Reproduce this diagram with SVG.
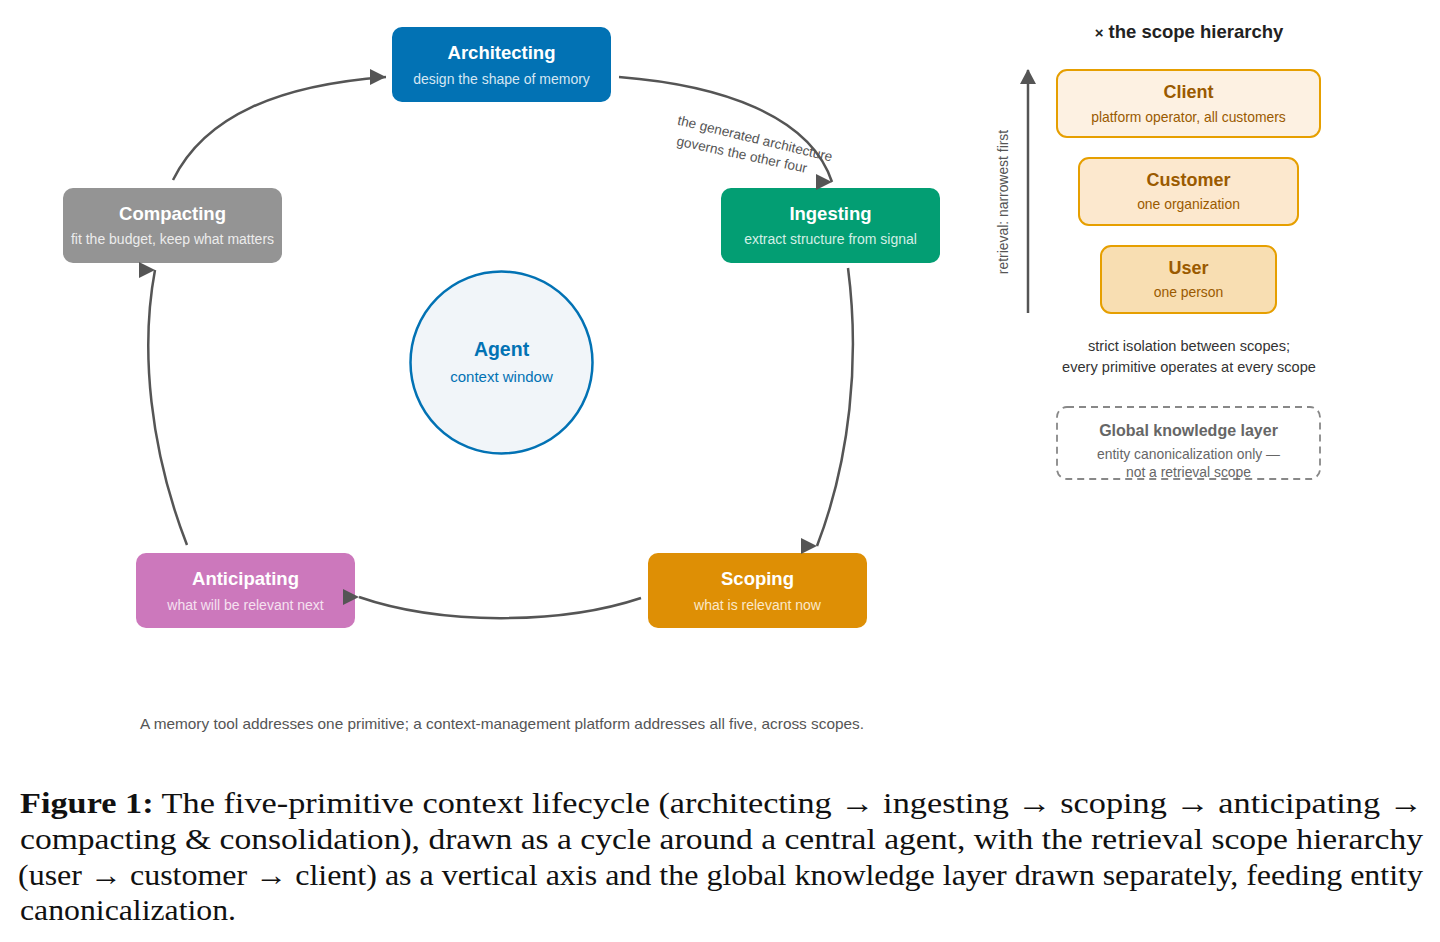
<svg xmlns="http://www.w3.org/2000/svg" width="1440" height="942" viewBox="0 0 1440 942">
<style>
.t{font-family:"Liberation Sans",Arial,sans-serif;text-anchor:middle}
.nt{font-size:18.5px;font-weight:bold;fill:#fff}
.ns{font-size:14px}
.conn{fill:none;stroke:#555;stroke-width:2.5}
.scope{stroke:#E69F00;stroke-width:2}
.st{font-size:18px;font-weight:bold;fill:#9A5A00}
.ss{font-size:13.9px;fill:#9A5A00}
</style>
<defs>
<marker id="ah" markerUnits="userSpaceOnUse" markerWidth="17" markerHeight="17" refX="16" refY="8" orient="0">
<path d="M0,0 L16,8 L0,16 z" fill="#555"/>
</marker>
<marker id="up" markerUnits="userSpaceOnUse" markerWidth="16" markerHeight="16" refX="8" refY="1" orient="0">
<path d="M8,0 L16,15 L0,15 z" fill="#555"/>
</marker>
</defs>
<rect width="1440" height="942" fill="#fff"/>

<g id="architecting" class="t">
<rect x="392" y="27" width="219" height="75" rx="10" fill="#0272B4"/>
<text class="nt" x="501.5" y="59">Architecting</text>
<text class="ns" x="501.5" y="84" fill="#d5e6f3">design the shape of memory</text>
</g>
<g id="ingesting" class="t">
<rect x="721" y="188" width="219" height="75" rx="10" fill="#039E73"/>
<text class="nt" x="830.5" y="220">Ingesting</text>
<text class="ns" x="830.5" y="244" fill="#d3efe6">extract structure from signal</text>
</g>
<g id="scoping" class="t">
<rect x="648" y="553" width="219" height="75" rx="10" fill="#DE8F05"/>
<text class="nt" x="757.5" y="585">Scoping</text>
<text class="ns" x="757.5" y="610" fill="#fbe8c9">what is relevant now</text>
</g>
<g id="anticipating" class="t">
<rect x="136" y="553" width="219" height="75" rx="10" fill="#CC78BC"/>
<text class="nt" x="245.5" y="585">Anticipating</text>
<text class="ns" x="245.5" y="610" fill="#f5e1f0">what will be relevant next</text>
</g>
<g id="compacting" class="t">
<rect x="63" y="188" width="219" height="75" rx="10" fill="#949494"/>
<text class="nt" x="172.5" y="220">Compacting</text>
<text class="ns" x="172.5" y="244" fill="#ececec">fit the budget, keep what matters</text>
</g>
<g id="agent" class="t">
<circle cx="501.5" cy="362.5" r="91" fill="#F1F5F9" stroke="#0272B4" stroke-width="2.5"/>
<text x="501.5" y="356" style="font-size:19.5px;font-weight:bold;fill:#0272B4">Agent</text>
<text x="501.5" y="382" style="font-size:15px;fill:#0272B4">context window</text>
</g>

<g id="connectors">
<path class="conn" d="M173,180 C205,115 280,85 386,77" marker-end="url(#ah)"/>
<path class="conn" d="M619,77 C720,85 810,115 832,182" marker-end="url(#ah)"/>
<path class="conn" d="M848,268 C860,360 850,460 817,546" marker-end="url(#ah)"/>
<path class="conn" d="M641,598 C560,625 440,625 359,597" marker-end="url(#ah)"/>
<path class="conn" d="M187,545 C150,450 140,350 155,270" marker-end="url(#ah)"/>
<g class="t" style="font-size:13.6px;fill:#555">
<text transform="rotate(13.5 754 143)" x="754" y="143">the generated architecture</text>
<text transform="rotate(12 741 159)" x="741" y="159">governs the other four</text>
</g>
</g>

<g id="scope-hierarchy" class="t">
<text x="1189" y="38" style="font-size:18.5px;font-weight:bold;fill:#222"><tspan style="font-size:15px">×</tspan> the scope hierarchy</text>
<line x1="1028" y1="313" x2="1028" y2="70" stroke="#555" stroke-width="2.5" marker-end="url(#up)"/>
<text transform="rotate(-90 1008 202)" x="1008" y="202" style="font-size:13.9px;fill:#555">retrieval: narrowest first</text>
</g>
<g id="client" class="t">
<rect class="scope" x="1057" y="70" width="263" height="67" rx="10" fill="#FDF1E2"/>
<text class="st" x="1188.5" y="98">Client</text>
<text class="ss" x="1188.5" y="122">platform operator, all customers</text>
</g>
<g id="customer" class="t">
<rect class="scope" x="1079" y="158" width="219" height="67" rx="10" fill="#FCE8CE"/>
<text class="st" x="1188.5" y="186">Customer</text>
<text class="ss" x="1188.5" y="209">one organization</text>
</g>
<g id="user" class="t">
<rect class="scope" x="1101" y="246" width="175" height="67" rx="10" fill="#F8DEB2"/>
<text class="st" x="1188.5" y="274">User</text>
<text class="ss" x="1188.5" y="297">one person</text>
</g>
<g id="isolation-note" class="t" style="font-size:14.6px;fill:#333">
<text x="1189" y="351">strict isolation between scopes;</text>
<text x="1189" y="372">every primitive operates at every scope</text>
</g>
<g id="global-knowledge" class="t">
<rect x="1057" y="407" width="263" height="72" rx="10" fill="none" stroke="#888" stroke-width="1.8" stroke-dasharray="7 5"/>
<text x="1188.5" y="436" style="font-size:16px;font-weight:bold;fill:#666">Global knowledge layer</text>
<text x="1188.5" y="459" style="font-size:13.9px;fill:#666">entity canonicalization only —</text>
<text x="1188.5" y="477" style="font-size:13.9px;fill:#666">not a retrieval scope</text>
</g>

<text id="footnote" x="140" y="729" textLength="724" lengthAdjust="spacingAndGlyphs" font-family="Liberation Sans, Arial, sans-serif" font-size="14.5" fill="#555">A memory tool addresses one primitive; a context-management platform addresses all five, across scopes.</text>

<g id="caption" font-family="Liberation Serif, Times New Roman, serif" font-size="30" fill="#111">
<text x="20" y="813" textLength="1403" lengthAdjust="spacingAndGlyphs"><tspan font-weight="bold">Figure 1:</tspan>  The five-primitive context lifecycle (architecting → ingesting → scoping → anticipating →</text>
<text x="20" y="849" textLength="1403" lengthAdjust="spacingAndGlyphs">compacting &amp; consolidation), drawn as a cycle around a central agent, with the retrieval scope hierarchy</text>
<text x="18" y="885" textLength="1405" lengthAdjust="spacingAndGlyphs">(user → customer → client) as a vertical axis and the global knowledge layer drawn separately, feeding entity</text>
<text x="20" y="920" textLength="216" lengthAdjust="spacingAndGlyphs">canonicalization.</text>
</g>
</svg>
